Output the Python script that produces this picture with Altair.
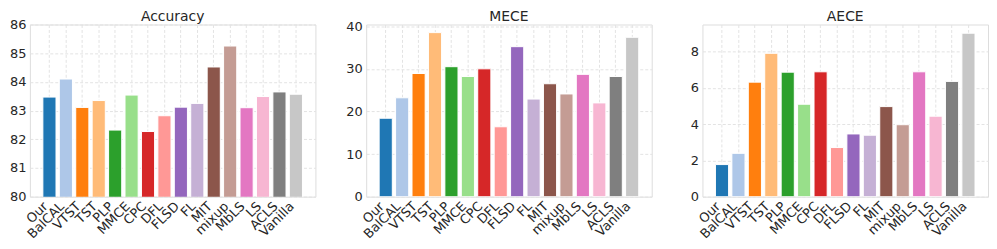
import altair as alt
import pandas as pd

methods = ["Our", "BalCAL", "VTST", "TST", "PLP", "MMCE", "CPC", "DFL", "FLSD", "FL",
           "MIT", "mixup", "MbLS", "LS", "ACLS", "Vanilla"]
accuracy = [83.47, 84.10, 83.11, 83.35, 82.32, 83.54, 82.27, 82.82, 83.12, 83.25,
            84.52, 85.25, 83.10, 83.49, 83.65, 83.57]
mece = [18.4, 23.2, 28.9, 38.5, 30.5, 28.2, 30.0, 16.4, 35.2, 22.9,
        26.5, 24.1, 28.7, 22.0, 28.2, 37.4]
aece = [1.77, 2.39, 6.32, 7.91, 6.87, 5.10, 6.89, 2.71, 3.46, 3.39,
        4.97, 3.97, 6.89, 4.44, 6.36, 9.02]
colors = ["#1f77b4", "#aec7e8", "#ff7f0e", "#ffbb78", "#2ca02c", "#98df8a",
          "#d62728", "#ff9896", "#9467bd", "#c5b0d5", "#8c564b", "#c49c94",
          "#e377c2", "#f7b6d2", "#7f7f7f", "#c7c7c7"]
titles = ["Accuracy", "MECE", "AECE"]

FONT = "DejaVu Sans"
W, H = 287, 173


def panel(values, title, domain, ticks):
    df = pd.DataFrame({"method": methods, "value": values})
    bars = alt.Chart(df).mark_bar(
        stroke="white", strokeWidth=1, clip=True
    ).encode(
        x=alt.X("method:N", sort=methods,
                scale=alt.Scale(paddingInner=0.2, paddingOuter=0.79),
                axis=alt.Axis(title=None, labelAngle=-45, labelAlign="right",
                              labelBaseline="top", labelPadding=3, labelOffset=-8,
                              ticks=False,
                              grid=True, gridDash=[3, 2], gridColor="#e3e3e3",
                              domain=False, labelFontSize=13, labelFont=FONT,
                              labelColor="#262626")),
        y=alt.Y("value:Q", scale=alt.Scale(domain=domain, nice=False, zero=False),
                axis=alt.Axis(title=None, values=ticks, ticks=False, grid=True,
                              gridDash=[3, 2], gridColor="#e3e3e3", domain=False,
                              labelFontSize=13, labelFont=FONT, labelColor="#262626",
                              labelPadding=4, minExtent=21, maxExtent=21)),
        color=alt.Color("method:N", sort=methods,
                        scale=alt.Scale(domain=methods, range=colors), legend=None),
    )
    label = alt.Chart(pd.DataFrame({"t": [title]})).mark_text(
        font=FONT, fontSize=14, color="#262626", baseline="alphabetic", align="center"
    ).encode(x=alt.value(W / 2), y=alt.value(-4), text="t:N")
    return alt.layer(bars, label).properties(width=W, height=H)


c1 = panel(accuracy, titles[0], [80, 86], [80, 81, 82, 83, 84, 85, 86])
c2 = panel(mece, titles[1], [0, 40.4], [0, 10, 20, 30, 40])
c3 = panel(aece, titles[2], [0, 9.5], [0, 2, 4, 6, 8])

chart = alt.hconcat(c1, c2, c3, spacing=28).configure_view(
    stroke="#d9d9d9", strokeWidth=1.25
).configure(background="white", padding=0)

chart.save("out.html", embed_options={"renderer": "svg", "actions": False})
